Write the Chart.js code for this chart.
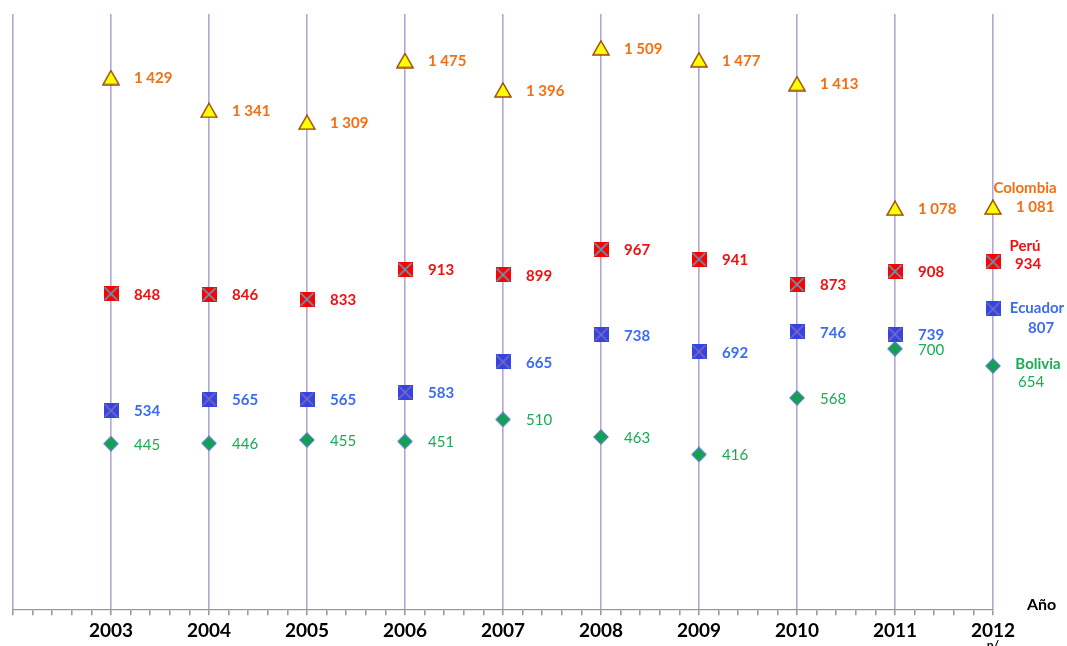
<!DOCTYPE html>
<html>
<head>
<meta charset="utf-8">
<script src="https://cdn.jsdelivr.net/npm/chart.js@4.4.1/dist/chart.umd.min.js"></script>
<style>
  html, body { margin: 0; padding: 0; background: #ffffff; }
  #wrap { width: 1067px; height: 646px; position: relative; }
</style>
</head>
<body>
<div id="wrap"><canvas id="grafico"></canvas></div>
<script>
// años y valores
const years = [2003, 2004, 2005, 2006, 2007, 2008, 2009, 2010, 2011, 2012];
const colombia = [1429, 1341, 1309, 1475, 1396, 1509, 1477, 1413, 1078, 1081];
const peru = [848, 846, 833, 913, 899, 967, 941, 873, 908, 934];
const ecuador = [534, 565, 565, 583, 665, 738, 692, 746, 739, 807];
const bolivia = [445, 446, 455, 451, 510, 463, 416, 568, 700, 654];
const seriesNames = ["Colombia", "Perú", "Ecuador", "Bolivia"];

const FONT = "Lato, 'Liberation Sans', sans-serif";

// marcadores dibujados en canvas
function marker(w, h, draw) {
  const c = document.createElement("canvas");
  c.width = w; c.height = h;
  draw(c.getContext("2d"), w, h);
  return c;
}
const triMarker = marker(18, 16, (g, w, h) => {
  g.beginPath();
  g.moveTo(w / 2, 1); g.lineTo(w - 1, h - 1); g.lineTo(1, h - 1); g.closePath();
  g.fillStyle = "#ffff00"; g.fill();
  g.lineWidth = 1.5; g.strokeStyle = "#9c4a0c"; g.stroke();
});
const peruMarker = marker(15, 15, (g, w, h) => {
  g.fillStyle = "#ff0000"; g.fillRect(0, 0, w, h);
  g.strokeStyle = "#4bacc6"; g.lineWidth = 1.6;
  g.beginPath(); g.moveTo(1, 1); g.lineTo(w - 1, h - 1);
  g.moveTo(w - 1, 1); g.lineTo(1, h - 1); g.stroke();
});
const ecuMarker = marker(15, 15, (g, w, h) => {
  g.fillStyle = "#3344e6"; g.fillRect(0, 0, w, h);
  g.strokeStyle = "#8a6fa8"; g.lineWidth = 1.4;
  g.beginPath(); g.moveTo(1, 1); g.lineTo(w - 1, h - 1);
  g.moveTo(w - 1, 1); g.lineTo(1, h - 1); g.stroke();
});
const bolMarker = marker(16, 16, (g, w, h) => {
  g.beginPath();
  g.moveTo(w / 2, 1); g.lineTo(w - 1, h / 2); g.lineTo(w / 2, h - 1); g.lineTo(1, h / 2); g.closePath();
  g.fillStyle = "#12a150"; g.fill();
  g.lineWidth = 1.3; g.strokeStyle = "#4f81bd"; g.stroke();
});

const textColors = ["#f36f12", "#f01010", "#3d6cf2", "#1aab55"];
const textBold = [true, true, true, false];
// desplazamientos para el último año (valor y nombre)
const lastValOff = [[23, 0], [22, 2], [35, 19], [25, 16]];
const lastNameOff = [[32, -19], [32, -16], [44, -1], [45, -2]];

function fmt(v) {
  return v >= 1000 ? Math.floor(v / 1000) + " " + String(v % 1000).padStart(3, "0") : String(v);
}

// etiquetas de datos
const labelPlugin = {
  id: "etiquetas",
  afterDraw(chart) {
    const g = chart.ctx;
    g.save();
    g.textBaseline = "middle";
    chart.data.datasets.forEach((ds, i) => {
      const meta = chart.getDatasetMeta(i);
      meta.data.forEach((pt, j) => {
        const last = j === meta.data.length - 1;
        g.fillStyle = textColors[i];
        g.font = (textBold[i] ? "bold " : "") + "15px " + FONT;
        g.textAlign = "left";
        if (last) {
          g.fillText(fmt(ds.data[j].y), pt.x + lastValOff[i][0], pt.y + lastValOff[i][1]);
          g.font = "bold 15px " + FONT;
          g.textAlign = "center";
          g.fillText(seriesNames[i], pt.x + lastNameOff[i][0], pt.y + lastNameOff[i][1]);
        } else {
          g.fillText(fmt(ds.data[j].y), pt.x + 23, pt.y + 1);
        }
      });
    });
    // título del eje y nota
    const xs = chart.scales.x;
    g.fillStyle = "#000000";
    g.font = "bold 16px " + FONT;
    g.textAlign = "left";
    g.fillText("Año", 1027, 605);
    g.font = "bold 12px " + FONT;
    g.textAlign = "center";
    g.textBaseline = "top";
    g.fillText("p/", xs.getPixelForValue(2012), 639);
    g.restore();
  }
};

function pts(arr) {
  return years.map((y, i) => ({ x: y, y: arr[i] }));
}
const isMajor = (v) => Math.abs(v - Math.round(v)) < 1e-6;

new Chart(document.getElementById("grafico"), {
  type: "scatter",
  data: {
    datasets: [
      { label: seriesNames[0], data: pts(colombia), pointStyle: triMarker, clip: false },
      { label: seriesNames[1], data: pts(peru), pointStyle: peruMarker, clip: false },
      { label: seriesNames[2], data: pts(ecuador), pointStyle: ecuMarker, clip: false },
      { label: seriesNames[3], data: pts(bolivia), pointStyle: bolMarker, clip: false },
    ],
  },
  options: {
    responsive: true,
    maintainAspectRatio: false,
    animation: false,
    layout: { padding: { left: 13, right: 74, top: 14, bottom: 0 } },
    plugins: { legend: { display: false }, tooltip: { enabled: false } },
    scales: {
      x: {
        type: "linear",
        min: 2002,
        max: 2012,
        z: 1,
        ticks: {
          stepSize: 0.2,
          autoSkip: false,
          maxRotation: 0,
          padding: 4,
          color: "#000000",
          font: { family: FONT, size: 19, weight: "bold" },
          callback: (v) => (isMajor(v) && Math.round(v) >= 2003 ? String(Math.round(v)) : ""),
        },
        grid: {
          color: (c) => (isMajor(c.tick.value) ? "#b4a6d2" : "rgba(0,0,0,0)"),
          lineWidth: 1.6,
          tickColor: "#9a9a9a",
          tickLength: 6,
        },
        border: { display: true, color: "#9a9a9a", width: 1.2 },
      },
      y: {
        display: false,
        min: 0,
        max: 1600,
      },
    },
  },
  plugins: [labelPlugin],
});
</script>
</body>
</html>
